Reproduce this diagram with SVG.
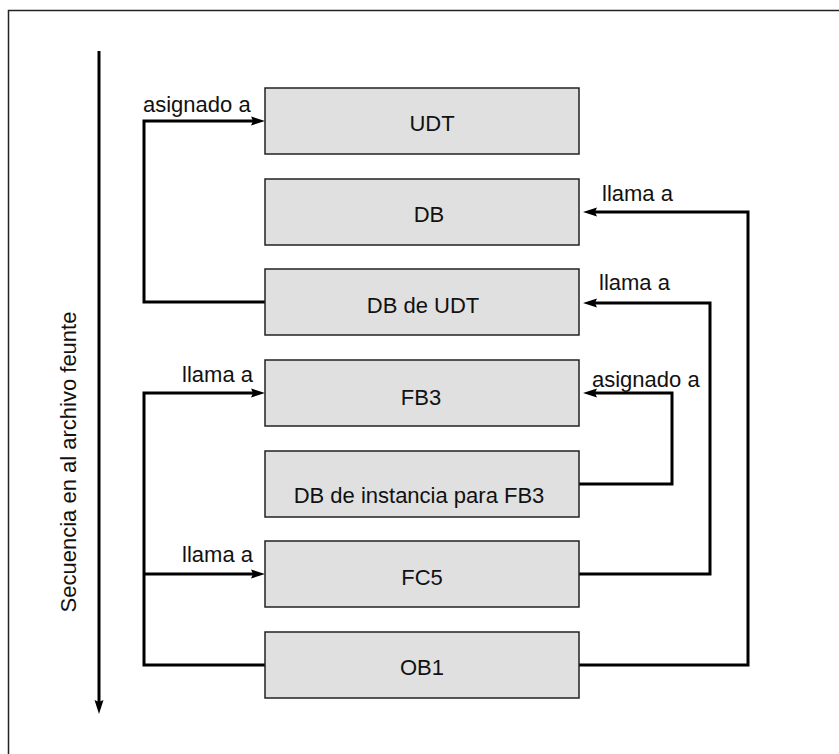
<svg xmlns="http://www.w3.org/2000/svg" width="839" height="754" viewBox="0 0 839 754">
<defs>
<style>
.box{fill:#e0e0e0;stroke:#222;stroke-width:1.5}
.lbl{font-family:"Liberation Sans",Arial,sans-serif;font-size:22px;fill:#111}
.c{text-anchor:middle}
.wire{fill:none;stroke:#000;stroke-width:3}
</style>
<marker id="ah" viewBox="0 0 14 10" refX="8" refY="5" markerWidth="14" markerHeight="10" markerUnits="userSpaceOnUse" orient="auto">
<path d="M0,0.5 L14,5 L0,9.5 L2,5 Z" fill="#000"/>
</marker>
</defs>
<rect width="839" height="754" fill="#fff"/>
<path d="M8.5,760 V10.5 H845" fill="none" stroke="#222" stroke-width="1.5"/>
<g id="axis">
<path class="wire" d="M99,51 V708" marker-end="url(#ah)"/>
<text class="lbl c" transform="translate(76,462) rotate(-90)">Secuencia en al archivo feunte</text>
</g>
<g id="connectors">
<path class="wire" d="M265,302 H144 V121 H259" marker-end="url(#ah)"/>
<path class="wire" d="M265,665 H144 V393 H259" marker-end="url(#ah)"/>
<path class="wire" d="M144,574 H259" marker-end="url(#ah)"/>
<path class="wire" d="M579,665 H748 V212 H589" marker-end="url(#ah)"/>
<path class="wire" d="M579,574 H710 V303 H589" marker-end="url(#ah)"/>
<path class="wire" d="M579,484 H672 V393 H589" marker-end="url(#ah)"/>
<text class="lbl" x="143" y="112">asignado a</text>
<text class="lbl" x="602" y="201">llama a</text>
<text class="lbl" x="599" y="290">llama a</text>
<text class="lbl" x="592" y="387">asignado a</text>
<text class="lbl" x="253" y="382" text-anchor="end">llama a</text>
<text class="lbl" x="253" y="562" text-anchor="end">llama a</text>
</g>
<g id="udt"><rect class="box" x="265" y="88" width="314" height="66"/><text class="lbl c" x="432" y="131">UDT</text></g>
<g id="db"><rect class="box" x="265" y="179" width="314" height="66"/><text class="lbl c" x="429" y="222">DB</text></g>
<g id="dbudt"><rect class="box" x="265" y="269" width="314" height="66"/><text class="lbl c" x="423" y="313">DB de UDT</text></g>
<g id="fb3"><rect class="box" x="265" y="360" width="314" height="66"/><text class="lbl c" x="421" y="405">FB3</text></g>
<g id="dbinst"><rect class="box" x="265" y="451" width="314" height="66"/><text class="lbl c" x="419" y="503">DB de instancia para FB3</text></g>
<g id="fc5"><rect class="box" x="265" y="541" width="314" height="66"/><text class="lbl c" x="422" y="585">FC5</text></g>
<g id="ob1"><rect class="box" x="265" y="632" width="314" height="66"/><text class="lbl c" x="422" y="675">OB1</text></g>
</svg>
